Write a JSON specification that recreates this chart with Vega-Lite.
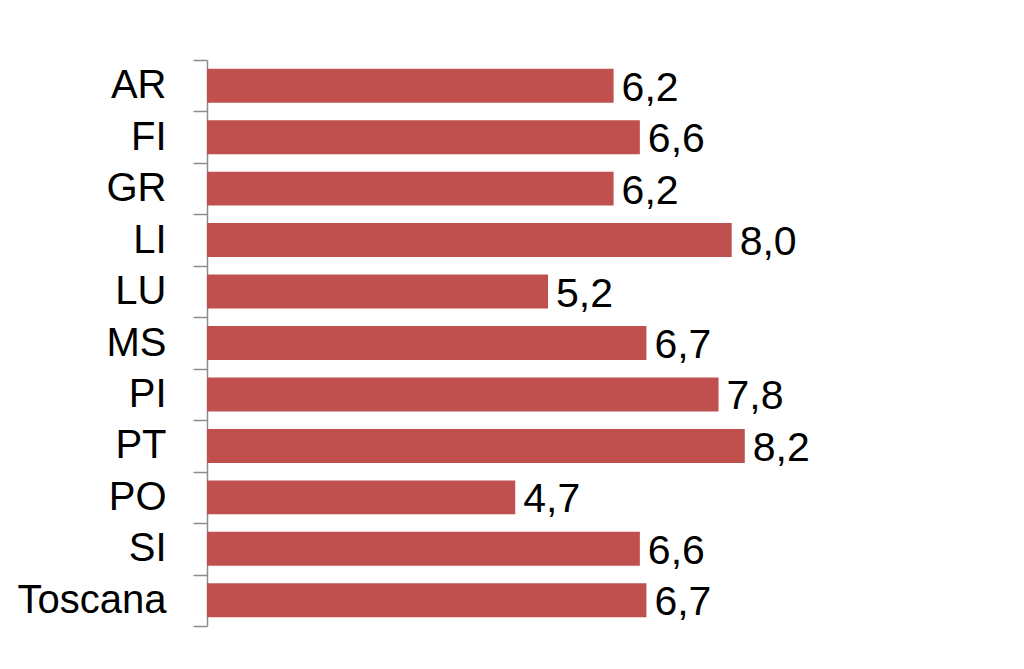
{
  "$schema": "https://vega.github.io/schema/vega-lite/v6.json",
  "autosize": "none",
  "width": 787,
  "height": 566,
  "padding": {"left": 207, "top": 60, "right": 30, "bottom": 43},
  "config": {
    "view": {"stroke": null},
    "locale": {"number": {"decimal": ",", "thousands": ".", "grouping": [3], "currency": ["€", ""]}},
    "font": "Liberation Sans"
  },
  "data": {
    "values": [
      {"provincia": "AR", "valore": 6.2},
      {"provincia": "FI", "valore": 6.6},
      {"provincia": "GR", "valore": 6.2},
      {"provincia": "LI", "valore": 8.0},
      {"provincia": "LU", "valore": 5.2},
      {"provincia": "MS", "valore": 6.7},
      {"provincia": "PI", "valore": 7.8},
      {"provincia": "PT", "valore": 8.2},
      {"provincia": "PO", "valore": 4.7},
      {"provincia": "SI", "valore": 6.6},
      {"provincia": "Toscana", "valore": 6.7}
    ]
  },
  "encoding": {
    "y": {
      "field": "provincia",
      "type": "nominal",
      "sort": null,
      "scale": {"paddingInner": 0, "paddingOuter": 0},
      "axis": {
        "title": null,
        "tickBand": "extent",
        "tickSize": 14,
        "tickColor": "#8c8c8c",
        "tickWidth": 1.5,
        "domainColor": "#8c8c8c",
        "domainWidth": 1.5,
        "labelFontSize": 40,
        "labelColor": "#000000",
        "labelPadding": 27,
        "labelFont": "Liberation Sans"
      }
    },
    "x": {
      "field": "valore",
      "type": "quantitative",
      "scale": {"domain": [0, 12], "nice": false},
      "axis": null
    }
  },
  "layer": [
    {
      "mark": {"type": "bar", "color": "#C0504D", "height": {"band": 0.66}}
    },
    {
      "mark": {"type": "text", "align": "left", "baseline": "middle", "dx": 8, "dy": 3, "fontSize": 41, "color": "#000000", "font": "Liberation Sans"},
      "encoding": {
        "text": {"field": "valore", "type": "quantitative", "format": ".1f"}
      }
    }
  ]
}
